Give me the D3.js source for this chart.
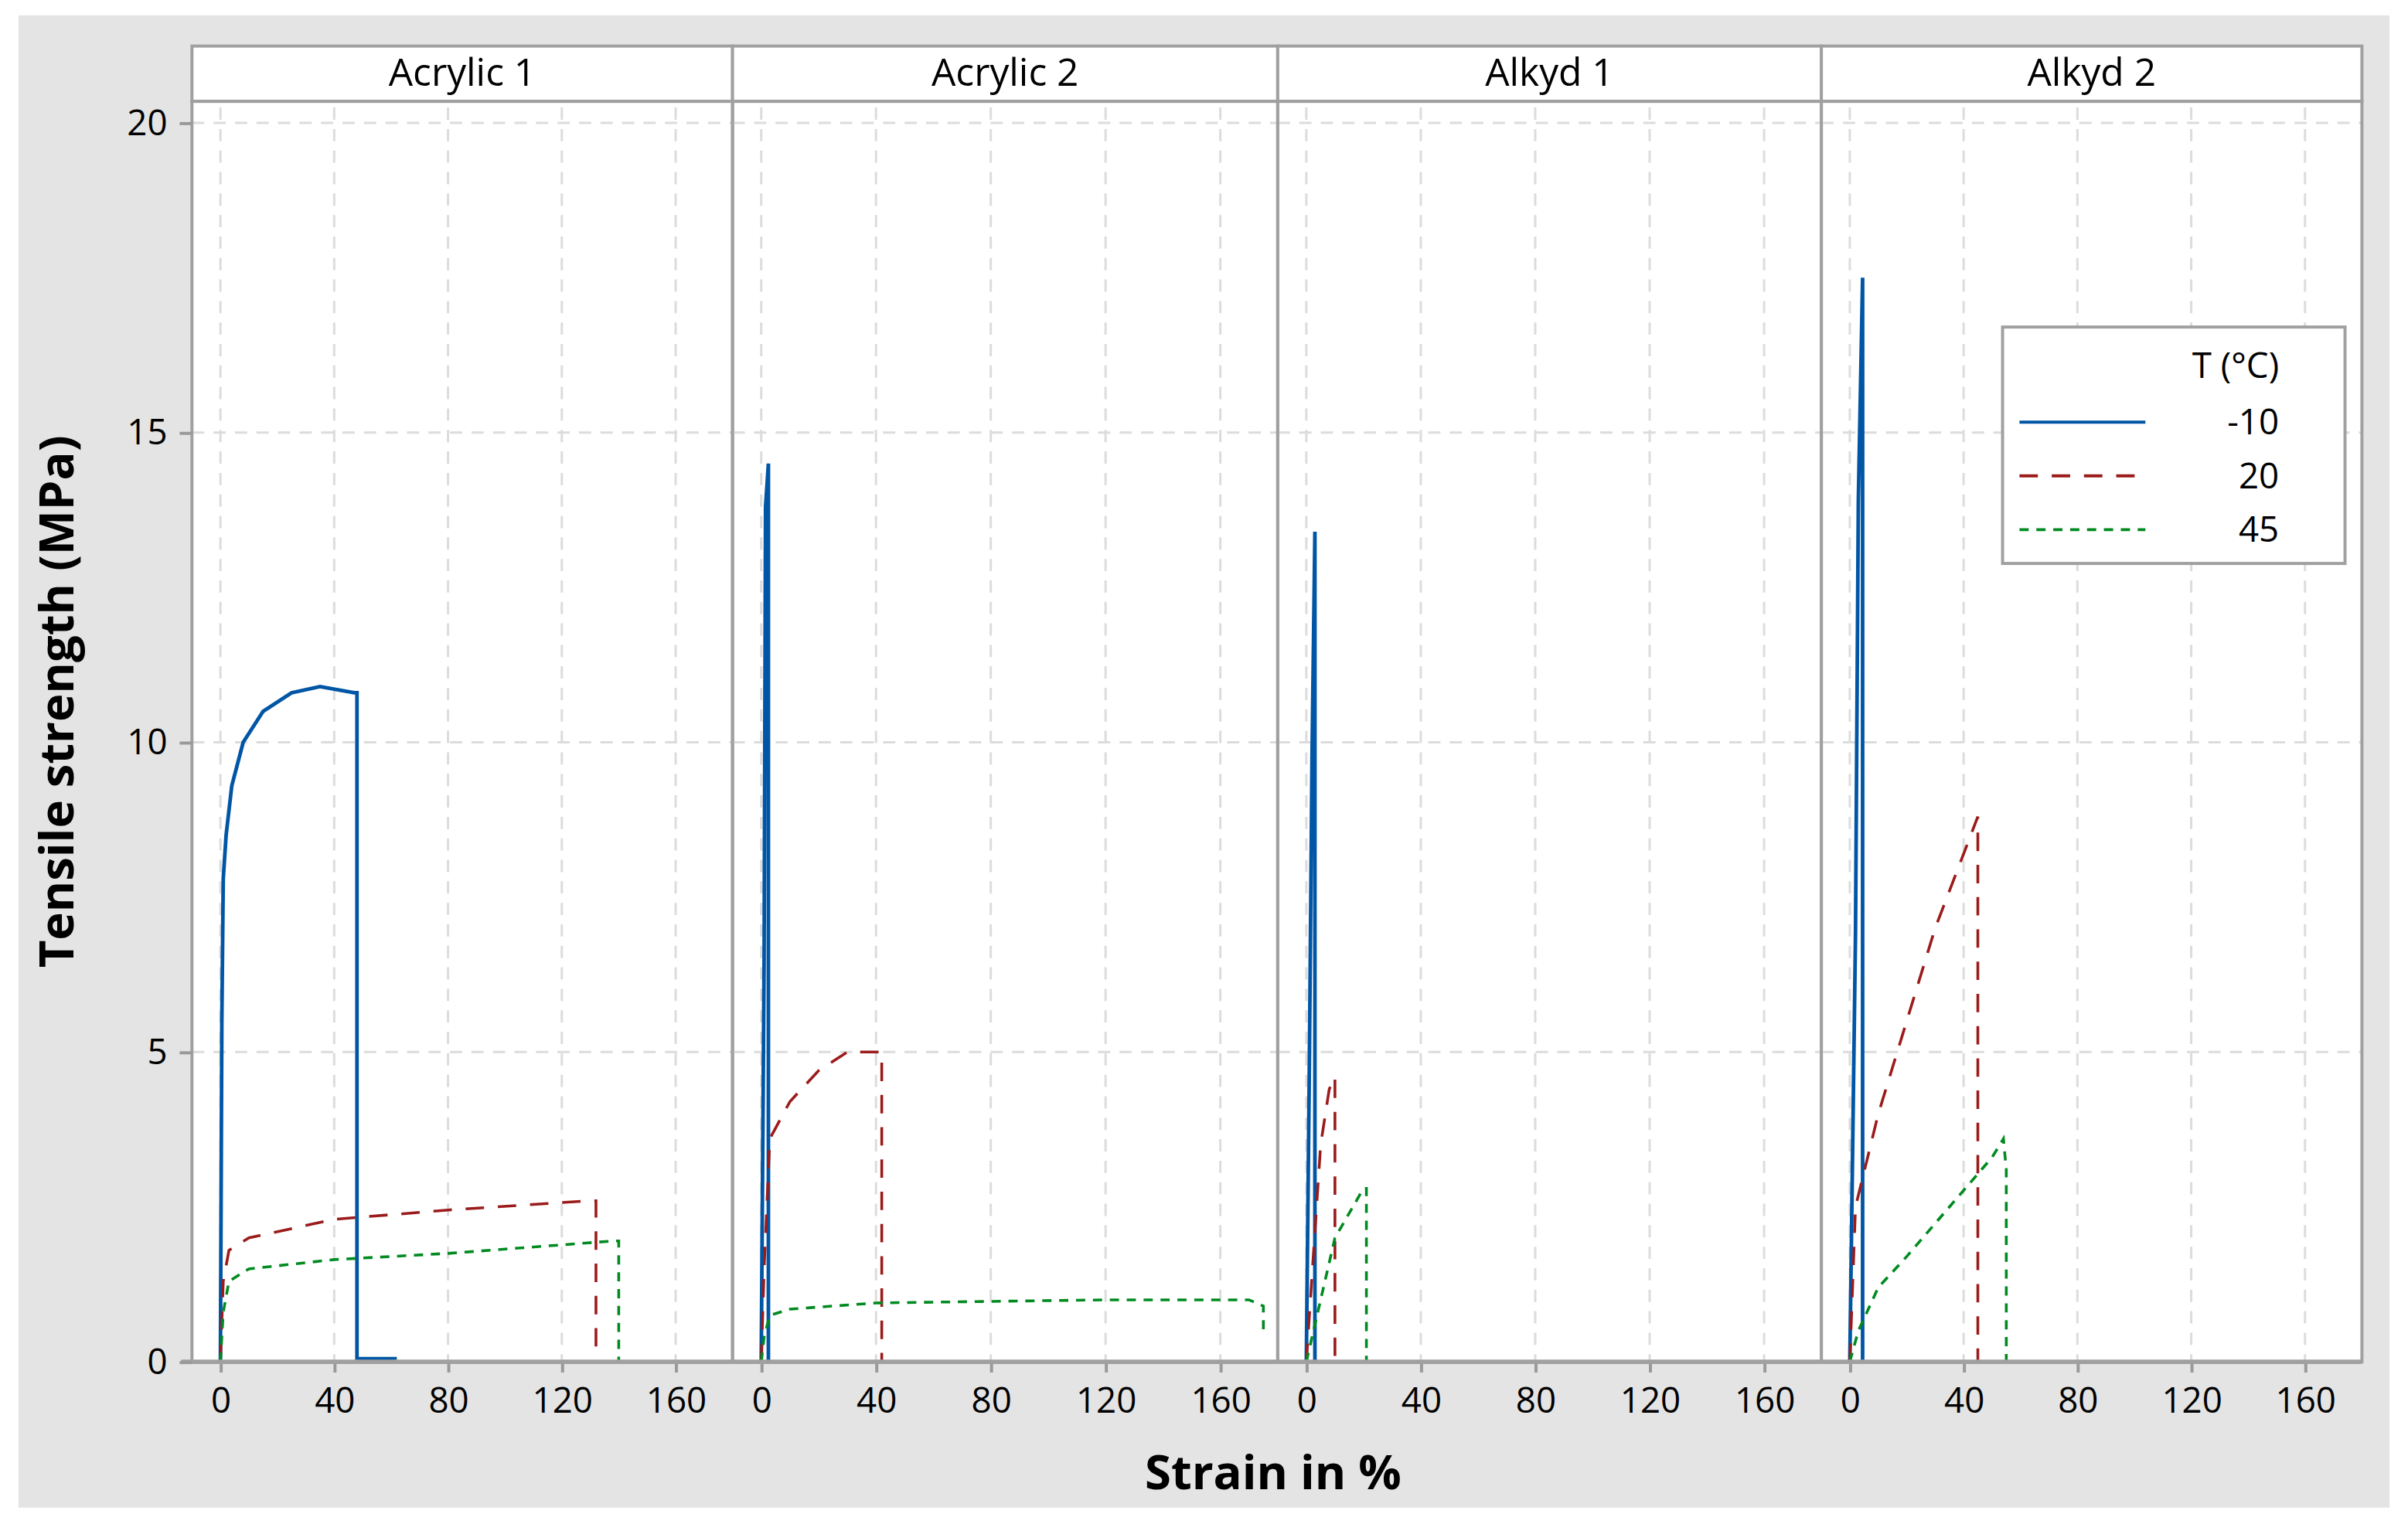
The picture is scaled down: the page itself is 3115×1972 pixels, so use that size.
<!DOCTYPE html><html><head><meta charset="utf-8">
<script src="https://cdn.jsdelivr.net/npm/d3@7"></script>
<style>body{margin:0;background:#fff}</style></head><body>
<script>
const panels=["Acrylic 1","Acrylic 2","Alkyd 1","Alkyd 2"];
const temps=["-10","20","45"];
const xTicks=[0,40,80,120,160];
const yTicks=[0,5,10,15,20];
// [strain, MPa] per panel per temperature
const acrylic1_m10=[[0,0],[0.5,5.5],[1,7.8],[2,8.5],[4,9.3],[8,10],[15,10.5],[25,10.8],[35,10.9],[47,10.8],[48,10.8],[48,0.05],[62,0.05]];
const acrylic1_20=[[0,0],[1,1.3],[3,1.8],[10,2.0],[40,2.3],[80,2.45],[130,2.6],[132,2.6],[132,0]];
const acrylic1_45=[[0,0],[1,0.8],[3,1.3],[10,1.5],[40,1.65],[80,1.75],[138,1.95],[140,1.95],[140,0]];
const acrylic2_m10=[[0,0],[1,6.5],[1.5,13.8],[2.5,14.5],[2.5,0]];
const acrylic2_20=[[0,0],[1,1.5],[3,3.6],[10,4.2],[20,4.7],[30,5.0],[42,5.0],[42,0]];
const acrylic2_45=[[0,0],[1,0.4],[3,0.75],[10,0.85],[40,0.95],[120,1.0],[170,1.0],[175,0.9],[175,0.5]];
const alkyd1_m10=[[0,0],[1,4.5],[2,9.8],[3,13.4],[3,0]];
const alkyd1_20=[[0,0],[5,3.5],[8,4.4],[10,4.6],[10,0]];
const alkyd1_45=[[0,0],[5,1],[10,2],[20,2.8],[21,2.8],[21,0]];
const alkyd2_m10=[[0,0],[2,6.9],[3,13.9],[4.5,17.5],[4.5,0]];
const alkyd2_20=[[0,0],[2,2.5],[10,4],[20,5.5],[30,7],[40,8.2],[45,8.8],[45,0]];
const alkyd2_45=[[0,0],[3,0.5],[10,1.2],[20,1.7],[35,2.5],[50,3.3],[54,3.6],[55,3.1],[55,0]];
const series=[[acrylic1_m10,acrylic1_20,acrylic1_45],[acrylic2_m10,acrylic2_20,acrylic2_45],[alkyd1_m10,alkyd1_20,alkyd1_45],[alkyd2_m10,alkyd2_20,alkyd2_45]];

const colors=["#0055a5","#9b1b1b","#008a20"];
const dashes=[null,"12,9","6,5"];
const widths=[2.4,1.8,1.8];
const s=3115/1568;
const F="'Open Sans','Noto Sans',sans-serif";
const svg=d3.select("body").append("svg").attr("width",3115).attr("height",1972);
const g=svg.append("g").attr("transform",`scale(${s})`);
g.append("rect").attr("x",12).attr("y",10).attr("width",1544).attr("height",972).attr("fill","#e4e4e4");
const bounds=[125,477,832,1186,1538];
const stripT=30,stripB=66,bot=887;
const y=d3.scaleLinear().domain([0,20]).range([bot,80]);
g.append("rect").attr("x",125).attr("y",stripT).attr("width",1413).attr("height",bot-stripT).attr("fill","#fff");
const line=(x)=>d3.line().x(d=>x(d[0])).y(d=>y(d[1]));
panels.forEach((p,i)=>{
  const x=d3.scaleLinear().domain([-10,180]).range([bounds[i],bounds[i+1]]);
  const pg=g.append("g");
  pg.selectAll(".gx").data(xTicks).join("line").attr("x1",d=>x(d)).attr("x2",d=>x(d)).attr("y1",stripB+4).attr("y2",bot)
    .attr("stroke","#dcdcdc").attr("stroke-width",1.5).attr("stroke-dasharray","8,6");
  pg.selectAll(".gy").data(yTicks.slice(1)).join("line").attr("x1",bounds[i]).attr("x2",bounds[i+1]).attr("y1",d=>y(d)).attr("y2",d=>y(d))
    .attr("stroke","#dcdcdc").attr("stroke-width",1.5).attr("stroke-dasharray","8,6");
  series[i].forEach((d,k)=>{
    pg.append("path").attr("d",line(x)(d)).attr("fill","none").attr("stroke",colors[k]).attr("stroke-width",widths[k])
      .attr("stroke-dasharray",dashes[k]);
  });
  const ax=d3.axisBottom(x).tickValues(xTicks).tickSize(7).tickPadding(10);
  const a=g.append("g").attr("transform",`translate(0,${bot})`).call(ax);
  a.select(".domain").remove();
  a.selectAll("line").attr("stroke","#999").attr("stroke-width",2);
  a.selectAll("text").attr("font-family",F).attr("font-size",23).attr("fill","#000");
  g.append("rect").attr("x",bounds[i]).attr("y",stripT).attr("width",bounds[i+1]-bounds[i]).attr("height",stripB-stripT)
    .attr("fill","#fff").attr("stroke","#a0a0a0").attr("stroke-width",2);
  g.append("text").attr("x",(bounds[i]+bounds[i+1])/2).attr("y",56).attr("text-anchor","middle")
    .attr("font-family",F).attr("font-size",25).text(p);
  g.append("rect").attr("x",bounds[i]).attr("y",stripB).attr("width",bounds[i+1]-bounds[i]).attr("height",bot-stripB)
    .attr("fill","none").attr("stroke","#a0a0a0").attr("stroke-width",2);
});
g.append("line").attr("x1",118).attr("x2",1538).attr("y1",bot).attr("y2",bot).attr("stroke","#a0a0a0").attr("stroke-width",3);
const ay=g.append("g").attr("transform","translate(125,0)").call(d3.axisLeft(y).tickValues(yTicks).tickSize(8).tickPadding(8));
ay.select(".domain").remove();
ay.selectAll("line").attr("stroke","#999").attr("stroke-width",2);
ay.selectAll("text").attr("font-family",F).attr("font-size",23).attr("fill","#000");
g.append("text").attr("x",829).attr("y",970).attr("text-anchor","middle").attr("font-family",F).attr("font-size",31).attr("font-weight","bold").text("Strain in %");
g.append("text").attr("transform","translate(48,457) rotate(-90)").attr("text-anchor","middle").attr("font-family",F).attr("font-size",31).attr("font-weight","bold").text("Tensile strength (MPa)");
const lg=g.append("g");
lg.append("rect").attr("x",1304).attr("y",213).attr("width",223).attr("height",154).attr("fill","#fff").attr("stroke","#a0a0a0").attr("stroke-width",2);
lg.append("text").attr("x",1484).attr("y",246).attr("text-anchor","end").attr("font-family",F).attr("font-size",23).text("T (°C)");
temps.forEach((t,k)=>{
  const yy=275+k*35;
  lg.append("line").attr("x1",1315).attr("x2",1397).attr("y1",yy).attr("y2",yy).attr("stroke",colors[k]).attr("stroke-width",2).attr("stroke-dasharray",dashes[k]);
  lg.append("text").attr("x",1484).attr("y",yy+8).attr("text-anchor","end").attr("font-family",F).attr("font-size",23).text(t);
});
</script></body></html>
